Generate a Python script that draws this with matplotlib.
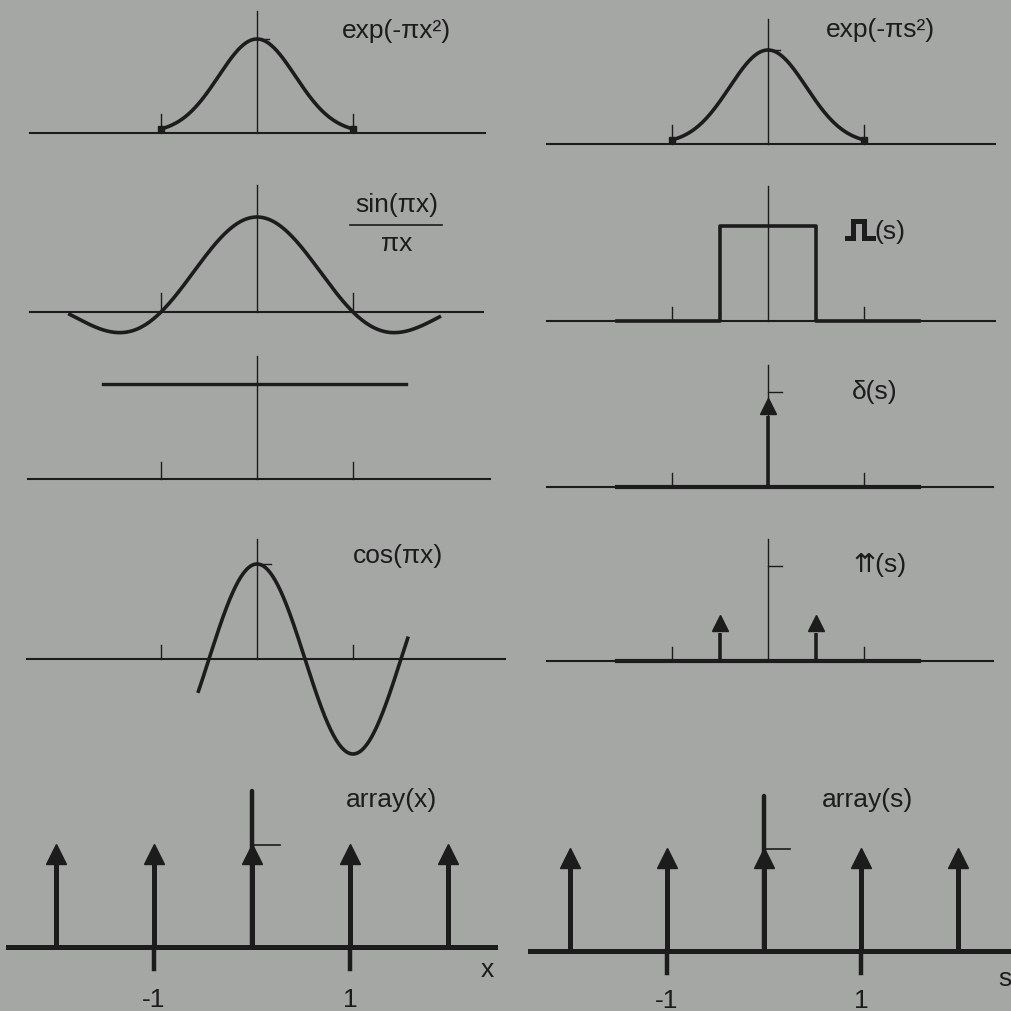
import numpy as np
import matplotlib
matplotlib.use("Agg")
import matplotlib.pyplot as plt

plt.rcParams['font.family'] = ['Liberation Sans', 'DejaVu Sans']

# --- data ---
gauss_range = [-1.0, 1.0]
sinc_range = [-1.95, 1.9]
const_range = [-1.6, 1.55]
const_value = 1.0
cos_range = [-0.61, 1.57]
rect_edges = [-0.5, 0.5]
rect_height = 1.0
rect_span = [-1.57, 1.57]
delta_pos = [0.0]
delta_height = [0.95]
shah_pos = [-0.5, 0.5]
shah_height = [0.5, 0.5]
comb_pos = [-2, -1, 0, 1, 2]
comb_height = [1.0, 1.0, 1.0, 1.0, 1.0]
tick_values = [-1, 1]
tick_labels = ['-1', '1']
left_labels = ['exp(-πx²)', 'sin(πx)', 'πx', '', 'cos(πx)', 'array(x)']
right_labels = ['exp(-πs²)', '(s)', 'δ(s)', '⇈(s)', 'array(s)']

W, H = 1011, 1012
BG = '#a4a7a4'
INK = '#1c1c1c'

fig = plt.figure(figsize=(W / 100, H / 100), dpi=100)
fig.patch.set_facecolor(BG)


def panel(cx, base, xu, yu):
    # axes over the whole figure, origin placed at pixel (cx, base)
    ax = fig.add_axes([0, 0, 1, 1])
    ax.set_xlim(-cx / xu, (W - cx) / xu)
    ax.set_ylim(-(H - base) / yu, base / yu)
    ax.axis('off')
    ax.patch.set_alpha(0)
    return ax


def frame(ax, x0, x1, top, tick_h, lw=1.5):
    ax.plot([x0, x1], [0, 0], color=INK, lw=lw)
    ax.plot([0, 0], [0, top], color=INK, lw=1.0)
    for t in tick_values:
        ax.plot([t, t], [0, tick_h], color=INK, lw=1.0)


def arrows(ax, xs, hs, lw, ms, head):
    for x, h in zip(xs, hs):
        ax.plot([x, x], [0, h - head], color=INK, lw=lw, solid_capstyle='butt')
        ax.plot(x, h - head / 2, marker='^', ms=ms, color=INK, mec=INK)


txt = dict(fontsize=19, color=INK, ha='center', va='center')

# ---------------- left column ----------------
ax = panel(257, 134, 96, 94)
frame(ax, -2.36, 2.37, 1.3, 0.2)
x = np.linspace(*gauss_range, 300)
ax.plot(x, np.exp(-np.pi * x ** 2), color=INK, lw=2.6)
ax.plot(gauss_range, np.exp(-np.pi * np.array(gauss_range) ** 2), 's', ms=4, color=INK)
ax.plot([0, 0.12], [1, 1], color=INK, lw=1.0)
ax.text(1.45, 1.1, left_labels[0], **txt)

ax = panel(257, 313, 96, 95)
frame(ax, -2.36, 2.35, 1.34, 0.2)
x = np.linspace(*sinc_range, 400)
ax.plot(x, np.sinc(x), color=INK, lw=2.6)
ax.text(1.46, 1.14, left_labels[1], **txt)
ax.plot([0.97, 1.93], [0.92, 0.92], color=INK, lw=1.2)
ax.text(1.46, 0.73, left_labels[2], **txt)

ax = panel(257, 480, 96, 95)
frame(ax, -2.39, 2.43, 1.3, 0.18)
ax.plot(const_range, [const_value, const_value], color=INK, lw=2.4)

ax = panel(257, 660, 96, 95)
frame(ax, -2.4, 2.58, 1.26, 0.15)
x = np.linspace(*cos_range, 400)
ax.plot(x, np.cos(np.pi * x), color=INK, lw=2.6)
ax.plot([0, 0.15], [1, 1], color=INK, lw=1.0)
ax.text(1.47, 1.09, left_labels[4], **txt)

ax = panel(252, 948, 98, 102)
ax.plot([-2.49, 2.48], [0, 0], color=INK, lw=3.6)
ax.plot([0, 0], [0, 1.53], color=INK, lw=3.2, solid_capstyle='round')
ax.plot([0, 0.29], [1.0, 1.0], color=INK, lw=1.2)
arrows(ax, comb_pos, comb_height, 3.6, 14, 0.17)
for t, lab in zip(tick_values, tick_labels):
    ax.plot([t, t], [0, -0.22], color=INK, lw=3.2)
    ax.text(t, -0.51, lab, **txt)
ax.text(2.4, -0.22, 'x', **txt)
ax.text(1.42, 1.45, left_labels[5], **txt)

# ---------------- right column ----------------
ax = panel(768, 145, 96, 94)
frame(ax, -2.3, 2.36, 1.33, 0.2)
x = np.linspace(*gauss_range, 300)
ax.plot(x, np.exp(-np.pi * x ** 2), color=INK, lw=2.6)
ax.plot(gauss_range, np.exp(-np.pi * np.array(gauss_range) ** 2), 's', ms=4, color=INK)
ax.plot([0, 0.12], [1, 1], color=INK, lw=1.0)
ax.text(1.17, 1.22, right_labels[0], **txt)

ax = panel(768, 322, 96, 95)
frame(ax, -2.3, 2.36, 1.42, 0.15)
rx = [rect_span[0], rect_edges[0], rect_edges[0], rect_edges[1], rect_edges[1], rect_span[1]]
ry = [0, 0, rect_height, rect_height, 0, 0]
ax.plot(rx, ry, color=INK, lw=2.6)
# the rect-pulse sign has no glyph in any installed font: draw it as a small pulse
ax.plot([0.82, 0.885, 0.885, 1.0, 1.0, 1.09], [0.875, 0.875, 1.05, 1.05, 0.875, 0.875],
        color=INK, lw=3.6, solid_joinstyle='miter')
ax.text(1.27, 0.95, right_labels[1], **txt)

ax = panel(768, 488, 96, 95)
frame(ax, -2.3, 2.34, 1.28, 0.15)
ax.plot(rect_span, [0, 0], color=INK, lw=3.0)
arrows(ax, delta_pos, delta_height, 2.6, 11, 0.2)
ax.plot([0, 0.15], [1, 1], color=INK, lw=1.0)
ax.text(1.11, 1.01, right_labels[2], **txt)

ax = panel(768, 662, 96, 95)
frame(ax, -2.3, 2.34, 1.28, 0.15)
ax.plot(rect_span, [0, 0], color=INK, lw=3.0)
arrows(ax, shah_pos, shah_height, 2.6, 11, 0.2)
ax.plot([0, 0.15], [1, 1], color=INK, lw=1.0)
ax.text(1.17, 1.02, right_labels[3], **txt)

ax = panel(764, 952, 97, 102)
ax.plot([-2.41, 2.6], [0, 0], color=INK, lw=3.6)
ax.plot([0, 0], [0, 1.52], color=INK, lw=3.2, solid_capstyle='round')
ax.plot([0, 0.27], [1.0, 1.0], color=INK, lw=1.2)
arrows(ax, comb_pos, comb_height, 3.6, 14, 0.17)
for t, lab in zip(tick_values, tick_labels):
    ax.plot([t, t], [0, -0.22], color=INK, lw=3.2)
    ax.text(t, -0.48, lab, **txt)
ax.text(2.48, -0.26, 's', **txt)
ax.text(1.07, 1.49, right_labels[4], **txt)

fig.savefig('out.png', dpi=100, facecolor=BG)
